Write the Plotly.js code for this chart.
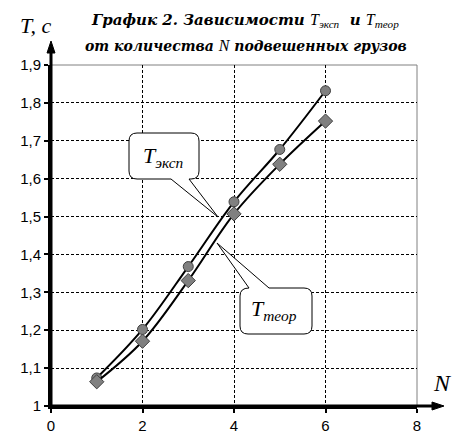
<!DOCTYPE html>
<html><head><meta charset="utf-8">
<script src="https://cdn.plot.ly/plotly-3.0.1.min.js"></script>
<style>body{margin:0;background:#fff}#chart{width:460px;height:447px}</style>
</head><body><div id="chart"></div>
<script>
// Data
var N = [1, 2, 3, 4, 5, 6];
var T_exp = [1.074, 1.202, 1.368, 1.539, 1.677, 1.832];
var T_theor = [1.064, 1.171, 1.331, 1.507, 1.638, 1.752];
var xTickVals = [0, 2, 4, 6, 8];
var xTickText = ['0', '2', '4', '6', '8'];
var yTickVals = [1, 1.1, 1.2, 1.3, 1.4, 1.5, 1.6, 1.7, 1.8, 1.9];
var yTickText = ['1', '1,1', '1,2', '1,3', '1,4', '1,5', '1,6', '1,7', '1,8', '1,9'];

// pixel -> paper helpers (plot area 51..417 x 65..406)
var L = 51, R = 417, T = 65, B = 406;
function PX(x){ return (x - L) / (R - L); }
function PY(y){ return (B - y) / (B - T); }
function path(pts){
  return pts.map(function(p){
    if (p === 'Z') return 'Z';
    var cmd = p[0], s = cmd;
    for (var i = 1; i < p.length; i += 2) s += (i > 1 ? ' ' : '') + PX(p[i]) + ',' + PY(p[i+1]);
    return s;
  }).join(' ');
}

var serif = 'Liberation Serif';
var titleFont = 'DejaVu Serif';

var traces = [
  {x: N, y: T_exp, mode: 'lines+markers', line: {shape: 'spline', color: '#000', width: 2},
   marker: {symbol: 'circle', size: 10, color: '#808080', line: {color: '#404040', width: 1}}, showlegend: false},
  {x: N, y: T_theor, mode: 'lines+markers', line: {shape: 'spline', color: '#000', width: 2},
   marker: {symbol: 'diamond', size: 11, color: '#808080', line: {color: '#404040', width: 1}}, showlegend: false}
];

var shapes = [
  {type: 'line', xref: 'paper', yref: 'paper', x0: 0, x1: 1, y0: 1, y1: 1, line: {color: '#808080', width: 1}, layer: 'below'},
  {type: 'line', xref: 'paper', yref: 'paper', x0: 1, x1: 1, y0: 0, y1: 1, line: {color: '#808080', width: 1}, layer: 'below'},
  {type: 'line', xref: 'paper', yref: 'paper', x0: PX(51), x1: PX(51), y0: PY(406), y1: PY(50), line: {color: '#000', width: 3}},
  {type: 'line', xref: 'paper', yref: 'paper', x0: PX(51), x1: PX(435), y0: PY(406), y1: PY(406), line: {color: '#000', width: 3}},
  {type: 'path', xref: 'paper', yref: 'paper', path: path([['M',51,41],['L',55,53],['L',47,53],'Z']), fillcolor: '#000', line: {color: '#000', width: 1}},
  {type: 'path', xref: 'paper', yref: 'paper', path: path([['M',444,406],['L',432,402],['L',432,410],'Z']), fillcolor: '#000', line: {color: '#000', width: 1}},
  {type: 'path', xref: 'paper', yref: 'paper', fillcolor: '#fff', line: {color: '#000', width: 1},
   path: path([['M',137,133],['L',191,133],['Q',199,133,199,141],['L',199,171],['Q',199,179,191,179],['L',189,179],['L',218,217],['L',171,179],['L',137,179],['Q',129,179,129,171],['L',129,141],['Q',129,133,137,133],'Z'])},
  {type: 'path', xref: 'paper', yref: 'paper', fillcolor: '#fff', line: {color: '#000', width: 1},
   path: path([['M',249,288],['L',217,243],['L',269,288],['L',304,288],['Q',312,288,312,296],['L',312,326],['Q',312,334,304,334],['L',248,334],['Q',240,334,240,326],['L',240,296],['Q',240,288,249,288],'Z'])}
];

var annotations = [
  {xref: 'paper', yref: 'paper', x: PX(245), y: PY(21), showarrow: false, xanchor: 'center', yanchor: 'middle',
   text: '<b><i>График 2. Зависимости </i></b><span style="font-family:Liberation Serif;font-size:16px"><i>T</i><sub><i>эксп</i></sub></span><b><i>  и </i></b><span style="font-family:Liberation Serif;font-size:16px"><i>T</i><sub><i>теор</i></sub></span>',
   font: {family: titleFont, size: 15, color: '#000'}},
  {xref: 'paper', yref: 'paper', x: PX(246), y: PY(45), showarrow: false, xanchor: 'center', yanchor: 'middle',
   text: '<b><i>от количества </i></b><span style="font-family:Liberation Serif;font-size:16px"><i>N</i></span><b><i> подвешенных грузов</i></b>',
   font: {family: titleFont, size: 14, color: '#000'}},
  {xref: 'paper', yref: 'paper', x: PX(18), y: PY(25), showarrow: false, xanchor: 'left', yanchor: 'middle',
   text: '<i>T, c</i>', font: {family: serif, size: 22, color: '#000'}},
  {xref: 'paper', yref: 'paper', x: PX(442), y: PY(383), showarrow: false, xanchor: 'center', yanchor: 'middle',
   text: '<i>N</i>', font: {family: serif, size: 24, color: '#000'}},
  {xref: 'paper', yref: 'paper', x: PX(163), y: PY(157), showarrow: false, xanchor: 'center', yanchor: 'middle',
   text: '<i>T</i><sub><i>эксп</i></sub>', font: {family: serif, size: 22, color: '#000'}},
  {xref: 'paper', yref: 'paper', x: PX(274), y: PY(310), showarrow: false, xanchor: 'center', yanchor: 'middle',
   text: '<i>T</i><sub><i>теор</i></sub>', font: {family: serif, size: 22, color: '#000'}}
];

var axisCommon = {
  showline: true, linecolor: '#000', linewidth: 3,
  ticks: 'outside', ticklen: 4, tickwidth: 2, tickcolor: '#000',
  showgrid: true, gridcolor: '#000', gridwidth: 1, griddash: '3px,2px',
  zeroline: false, tickmode: 'array', fixedrange: true,
  tickfont: {family: 'Liberation Sans', size: 15, color: '#000'}
};

var layout = {
  width: 460, height: 447,
  margin: {l: 51, r: 43, t: 65, b: 41},
  paper_bgcolor: '#fff', plot_bgcolor: '#fff',
  xaxis: Object.assign({}, axisCommon, {range: [0, 8], tickvals: xTickVals, ticktext: xTickText}),
  yaxis: Object.assign({}, axisCommon, {range: [1, 1.9], tickvals: yTickVals, ticktext: yTickText}),
  shapes: shapes,
  annotations: annotations,
  showlegend: false
};

Plotly.newPlot('chart', traces, layout, {staticPlot: true});
</script>
</body></html>
